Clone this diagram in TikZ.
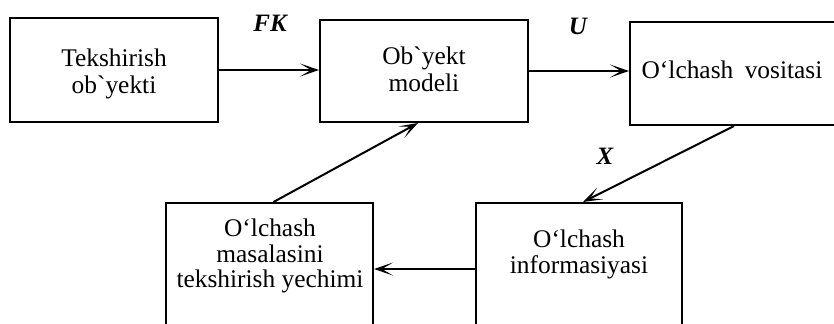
\documentclass[tikz,border=0pt]{standalone}
\usepackage{fontspec}
\setmainfont{Liberation Serif}[Ligatures=TeXOff]
\usetikzlibrary{arrows.meta,calc}

\begin{document}
\begin{tikzpicture}[x=0.5pt,y=-0.5pt,
  box/.style={draw, line width=1pt, minimum width=104pt, inner sep=0pt},
  txt/.style={align=center, inner sep=0pt},
  sig/.style={font=\fontsize{12.5}{12.5}\selectfont\bfseries\itshape, inner sep=0pt},
  flow/.style={line width=1pt, -{Stealth[length=9.5pt, width=6.5pt, inset=5.5pt]}}]
  \useasboundingbox (0,0) rectangle (834,323);
  \clip (0,0) rectangle (834,323);
  \fill[white] (0,0) rectangle (834,323);

  % upper row
  \node[box, minimum height=52pt] (a) at (114,70) {};
  \node[txt, font=\fontsize{12.7}{13.5}\selectfont] (at) at (114,74) {Tekshirish\\ob`yekti};
  \node[box, minimum height=51pt] (b) at (424,71) {};
  \node[txt, font=\fontsize{12.7}{13.5}\selectfont] (bt) at (424,69) {Ob`yekt\\modeli};
  \node[box, minimum height=51.5pt] (c) at (734,73.5) {};
  \node[txt, font=\fontsize{12.7}{13.5}\selectfont] (ct) at (732,70) {O‘lchash\hspace{0.45em}vositasi};

  % lower row (boxes run past the lower edge)
  \node[box, minimum height=66pt, anchor=north, minimum width=103.5pt] (d) at (269.5,202) {};
  \node[txt, font=\fontsize{12.7}{12.6}\selectfont] (dt) at (270,256) {O‘lchash\\masalasini\\tekshirish yechimi};
  \node[box, minimum height=66pt, anchor=north, minimum width=103pt] (e) at (579,202) {};
  \node[txt, font=\fontsize{12.7}{13}\selectfont] (et) at (579,254) {O‘lchash\\informasiyasi};

  % signal labels
  \node[sig] (fk) at (270,23) {FK};
  \node[sig] (u) at (578,26) {U};
  \node[sig] (x) at (605,156) {X};

  % connectors
  \draw[flow] (a.east) -- (a.east -| b.west);
  \draw[flow] (b.east) -- (b.east -| c.west);
  \draw[flow] (c.south) -- ([xshift=2pt]e.north);
  \draw[flow] (e.west) -- (d.east);
  \draw[flow] ([xshift=2pt]d.north) -- ([xshift=-3pt]b.south);
\end{tikzpicture}
\end{document}
